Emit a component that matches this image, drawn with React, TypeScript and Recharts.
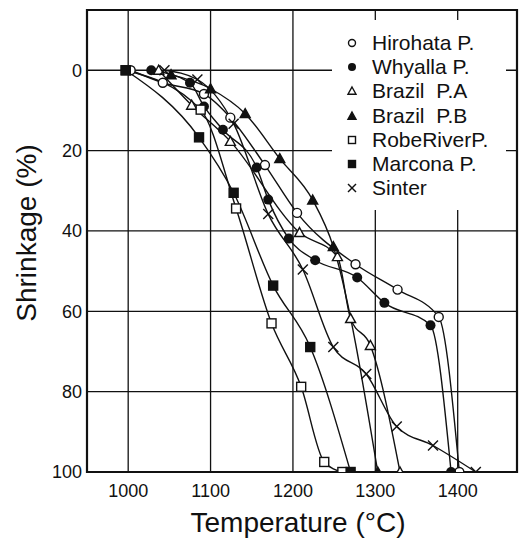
import React from "react";
import {
  LineChart,
  Line,
  XAxis,
  YAxis,
  CartesianGrid,
  ReferenceArea,
  Legend,
  Label,
} from "recharts";

// temperature (°C) and shrinkage (%)
const hirohataT = [1003, 1042, 1092, 1124, 1166, 1205, 1276, 1327, 1377, 1402];
const hirohataS = [0, 3.1, 5.9, 11.8, 23.6, 35.5, 48.3, 54.6, 61.4, 100];

const whyallaT = [1028, 1075, 1092, 1115, 1156, 1170, 1195, 1227, 1278, 1311, 1367, 1392];
const whyallaS = [0, 3.1, 9, 14.8, 24.2, 32.2, 41.9, 47.3, 51.6, 57.9, 63.5, 100];

const brazilAT = [1037, 1077, 1124, 1208, 1254, 1270, 1294, 1330];
const brazilAS = [0, 8.7, 17.7, 40.4, 46.4, 61.8, 68.5, 100];

const brazilBT = [1052, 1100, 1142, 1184, 1224, 1249, 1303];
const brazilBS = [1.1, 4.6, 10.8, 22.0, 32.3, 43.9, 100];

const robeT = [997, 1088, 1131, 1174, 1210, 1238, 1260];
const robeS = [0, 9.8, 34.4, 63.0, 78.8, 97.5, 100];

const marconaT = [997, 1086, 1128, 1176, 1221, 1270];
const marconaS = [0, 16.7, 30.5, 53.6, 68.9, 100];

const sinterT = [1044, 1084, 1128, 1170, 1212, 1249, 1289, 1326, 1370, 1422];
const sinterS = [0, 2.3, 13.3, 35.8, 49.6, 68.9, 75.6, 88.7, 93.4, 100];

const xTicks = [1000, 1100, 1200, 1300, 1400];
const yTicks = [0, 20, 40, 60, 80, 100];

type Kind = "circle" | "disc" | "tri" | "solidTri" | "square" | "solidSquare" | "cross";

const zip = (t: number[], s: number[]) => t.map((v, i) => ({ t: v, s: s[i] }));

const series: { name: string; kind: Kind; data: { t: number; s: number }[] }[] = [
  { name: "Hirohata P.", kind: "circle", data: zip(hirohataT, hirohataS) },
  { name: "Whyalla P.", kind: "disc", data: zip(whyallaT, whyallaS) },
  { name: "Brazil  P.A", kind: "tri", data: zip(brazilAT, brazilAS) },
  { name: "Brazil  P.B", kind: "solidTri", data: zip(brazilBT, brazilBS) },
  { name: "RobeRiverP.", kind: "square", data: zip(robeT, robeS) },
  { name: "Marcona P.", kind: "solidSquare", data: zip(marconaT, marconaS) },
  { name: "Sinter", kind: "cross", data: zip(sinterT, sinterS) },
];

const FONT = "'Liberation Sans', Arial, sans-serif";
const INK = "#111";

function Marker({ cx, cy, kind, size }: { cx: number; cy: number; kind: Kind; size: number }) {
  const h = size / 2;
  const sw = 1.4;
  switch (kind) {
    case "circle":
      return <circle cx={cx} cy={cy} r={h - 0.5} fill="#fff" stroke={INK} strokeWidth={sw} />;
    case "disc":
      return <circle cx={cx} cy={cy} r={h} fill={INK} />;
    case "tri":
    case "solidTri": {
      const pts = `${cx},${cy - h} ${cx + h},${cy + h * 0.8} ${cx - h},${cy + h * 0.8}`;
      return (
        <polygon
          points={pts}
          fill={kind === "tri" ? "#fff" : INK}
          stroke={INK}
          strokeWidth={sw}
          strokeLinejoin="miter"
        />
      );
    }
    case "square":
    case "solidSquare":
      return (
        <rect
          x={cx - h + 0.5}
          y={cy - h + 0.5}
          width={size - 1}
          height={size - 1}
          fill={kind === "square" ? "#fff" : INK}
          stroke={INK}
          strokeWidth={sw}
        />
      );
    default:
      return (
        <g stroke={INK} strokeWidth={sw}>
          <line x1={cx - h} y1={cy - h} x2={cx + h} y2={cy + h} />
          <line x1={cx - h} y1={cy + h} x2={cx + h} y2={cy - h} />
        </g>
      );
  }
}

const renderLegend = () => (
  <div style={{ fontFamily: FONT, fontSize: 21, color: INK, paddingTop: 11 }}>
    {series.map((s) => (
      <div key={s.name} style={{ display: "flex", alignItems: "center", height: 24.2 }}>
        <svg width={40} height={24} style={{ flex: "none" }}>
          <Marker cx={20} cy={12} kind={s.kind} size={8} />
        </svg>
        <span style={{ whiteSpace: "pre" }}>{s.name}</span>
      </div>
    ))}
  </div>
);

const renderYLabel = ({ viewBox }: any) => {
  if (!viewBox) return null;
  const cx = 26;
  const cy = 233;
  return (
    <text
      x={cx}
      y={cy}
      transform={`rotate(-90 ${cx} ${cy})`}
      textAnchor="middle"
      dominantBaseline="central"
      fontFamily={FONT}
      fontSize={28}
      fill={INK}
    >
      Shrinkage (%)
    </text>
  );
};

const renderXLabel = ({ viewBox }: any) => {
  if (!viewBox) return null;
  return (
    <text
      x={298}
      y={522}
      textAnchor="middle"
      dominantBaseline="central"
      fontFamily={FONT}
      fontSize={28}
      fill={INK}
    >
      Temperature (°C)
    </text>
  );
};

export default function App() {
  const tick = { fontSize: 18, fill: INK, fontFamily: FONT };
  return (
    <div style={{ position: "absolute", left: 0, top: 0, background: "#fff" }}>
      <LineChart width={519} height={539} margin={{ top: 10, right: 2, bottom: 0, left: 0 }}>
        <CartesianGrid stroke={INK} strokeWidth={1.3} horizontalValues={yTicks} verticalValues={xTicks} />
        <XAxis
          type="number"
          dataKey="t"
          domain={[950, 1472]}
          ticks={xTicks}
          allowDataOverflow
          height={67}
          axisLine={false}
          tickLine={false}
          tickSize={0}
          tickMargin={12}
          tick={tick}
        >
          <Label content={renderXLabel} />
        </XAxis>
        <YAxis
          type="number"
          dataKey="s"
          domain={[-15, 100]}
          ticks={yTicks}
          reversed
          allowDataOverflow
          width={87}
          axisLine={false}
          tickLine={false}
          tickSize={0}
          tickMargin={5}
          tick={tick}
        >
          <Label content={renderYLabel} />
        </YAxis>
        <ReferenceArea x1={950} x2={1472} y1={-15} y2={100} fill="none" stroke={INK} strokeWidth={2.2} />
        {series.map((s) => (
          <Line
            key={s.name}
            data={s.data}
            dataKey="s"
            name={s.name}
            type="monotone"
            stroke={INK}
            strokeWidth={1.4}
            isAnimationActive={false}
            dot={(p: any) => <Marker key={`${s.name}-${p.index}`} cx={p.cx} cy={p.cy} kind={s.kind} size={10} />}
            activeDot={false}
          />
        ))}
        <Legend
          layout="horizontal"
          verticalAlign="middle"
          align="center"
          content={renderLegend}
          wrapperStyle={{ position: "absolute", left: 332, top: 20, width: 174, height: 190, background: "#fff" }}
        />
      </LineChart>
    </div>
  );
}
